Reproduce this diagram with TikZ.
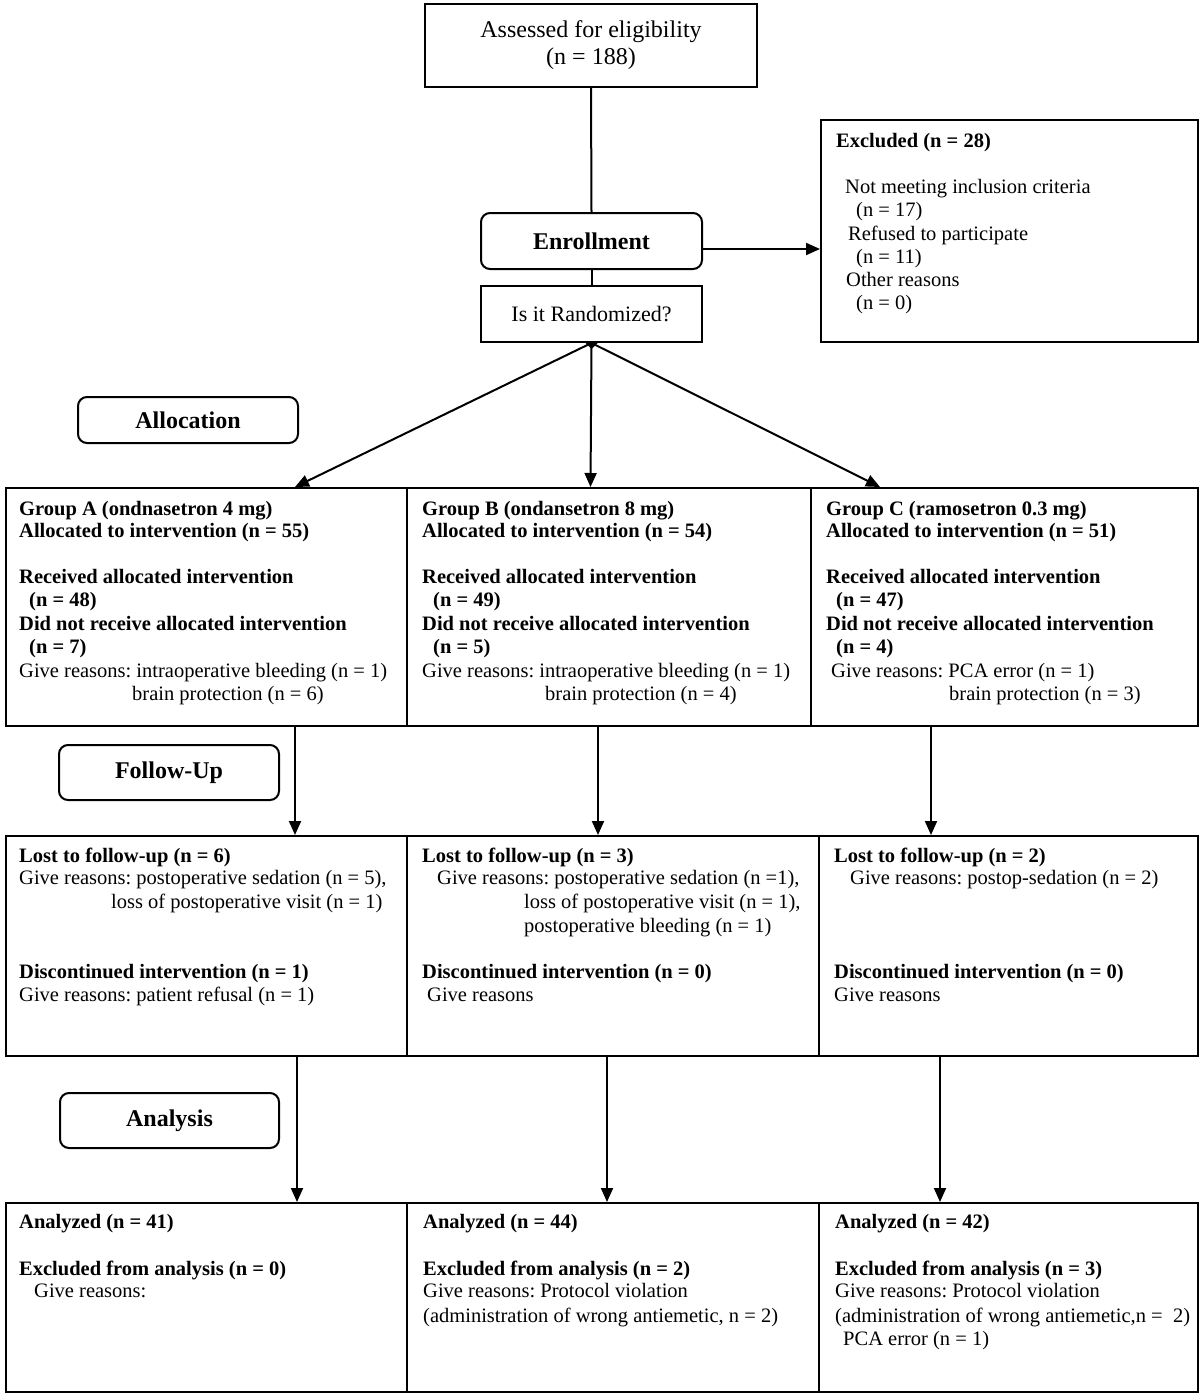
\documentclass[tikz,border=0pt]{standalone}
\usepackage{fontspec}
\setmainfont{Liberation Serif}
\usetikzlibrary{arrows.meta}
\frenchspacing
\begin{document}
\begin{tikzpicture}[x=1pt,y=-1pt,
 box/.style={draw, line width=2pt, inner sep=0pt, anchor=north west},
 rbox/.style={box, rounded corners=9pt},
 tl/.style={anchor=west, inner sep=0pt, text height=14pt, text depth=4pt, font=\fontsize{20.5}{23}\selectfont},
 tb/.style={tl, font=\fontsize{20.5}{23}\selectfont\bfseries},
 bigt/.style={font=\fontsize{24}{27}\selectfont, align=center},
 bigb/.style={font=\fontsize{24}{27}\selectfont\bfseries, align=center},
 conn/.style={line width=2pt},
 arr/.style={conn, -{Triangle[length=14pt,width=12pt]}}]
\useasboundingbox (0,0) rectangle (1200,1395);

% ---- top part
\node[box, minimum width=332pt, minimum height=83pt, bigt] (assess) at (424,3) {Assessed for eligibility\\(n = 188)};
\node[rbox, minimum width=221pt, minimum height=56pt, bigb] (enroll) at (480,212) {Enrollment};
\node[box, minimum width=221pt, minimum height=56pt, font=\fontsize{22}{26}\selectfont] (rand) at (480,285) {Is it Randomized?};
\node[box, minimum width=377pt, minimum height=222pt] (excl) at (820,119) {};
\node[rbox, minimum width=220pt, minimum height=46pt, bigb] (alloc) at (77,396) {Allocation};
\node[rbox, minimum width=220pt, minimum height=55pt, bigb] (follow) at (58,744) {Follow-Up};
\node[rbox, minimum width=219pt, minimum height=55pt, bigb] (analysis) at (59,1092) {Analysis};

\node[tb] (e1) at (836,142) {Excluded (n = 28)};
\node[tl] (e2) at (845,188) {Not meeting inclusion criteria};
\node[tl] (e3) at (856,211) {(n = 17)};
\node[tl] (e4) at (848,235) {Refused to participate};
\node[tl] (e5) at (856,258) {(n = 11)};
\node[tl] (e6) at (846,281) {Other reasons};
\node[tl] (e7) at (856,304) {(n = 0)};

% ---- row 1
\node[box, minimum width=401pt, minimum height=238pt] (ga) at (5,487) {};
\node[box, minimum width=404pt, minimum height=238pt] (gb) at (406,487) {};
\node[box, minimum width=387pt, minimum height=238pt] (gc) at (810,487) {};

\node[tb] (a1) at (19,510) {Group A (ondnasetron 4 mg)};
\node[tb] (a2) at (19,532) {Allocated to intervention (n = 55)};
\node[tb] (a3) at (19,578) {Received allocated intervention};
\node[tb] (a4) at (29,601) {(n = 48)};
\node[tb] (a5) at (19,625) {Did not receive allocated intervention};
\node[tb] (a6) at (29,648) {(n = 7)};
\node[tl] (a7) at (19,672) {Give reasons: intraoperative bleeding (n = 1)};
\node[tl] (a8) at (132,695) {brain protection (n = 6)};

\node[tb] (b1) at (422,510) {Group B (ondansetron 8 mg)};
\node[tb] (b2) at (422,532) {Allocated to intervention (n = 54)};
\node[tb] (b3) at (422,578) {Received allocated intervention};
\node[tb] (b4) at (433,601) {(n = 49)};
\node[tb] (b5) at (422,625) {Did not receive allocated intervention};
\node[tb] (b6) at (433,648) {(n = 5)};
\node[tl] (b7) at (422,672) {Give reasons: intraoperative bleeding (n = 1)};
\node[tl] (b8) at (545,695) {brain protection (n = 4)};

\node[tb] (c1) at (826,510) {Group C (ramosetron 0.3 mg)};
\node[tb] (c2) at (826,532) {Allocated to intervention (n = 51)};
\node[tb] (c3) at (826,578) {Received allocated intervention};
\node[tb] (c4) at (836,601) {(n = 47)};
\node[tb] (c5) at (826,625) {Did not receive allocated intervention};
\node[tb] (c6) at (836,648) {(n = 4)};
\node[tl] (c7) at (831,672) {Give reasons: PCA error (n = 1)};
\node[tl] (c8) at (949,695) {brain protection (n = 3)};

% ---- row 2
\node[box, minimum width=401pt, minimum height=220pt] (fa) at (5,835) {};
\node[box, minimum width=412pt, minimum height=220pt] (fb) at (406,835) {};
\node[box, minimum width=379pt, minimum height=220pt] (fc) at (818,835) {};

\node[tb] (fa1) at (19,857) {Lost to follow-up (n = 6)};
\node[tl] (fa2) at (19,879) {Give reasons: postoperative sedation (n = 5),};
\node[tl] (fa3) at (111,903) {loss of postoperative visit (n = 1)};
\node[tb] (fa4) at (19,973) {Discontinued intervention (n = 1)};
\node[tl] (fa5) at (19,996) {Give reasons: patient refusal (n = 1)};

\node[tb] (fb1) at (422,857) {Lost to follow-up (n = 3)};
\node[tl] (fb2) at (437,879) {Give reasons: postoperative sedation (n =1),};
\node[tl] (fb3) at (524,903) {loss of postoperative visit (n = 1),};
\node[tl] (fb4) at (524,927) {postoperative bleeding (n = 1)};
\node[tb] (fb5) at (422,973) {Discontinued intervention (n = 0)};
\node[tl] (fb6) at (427,996) {Give reasons};

\node[tb] (fc1) at (834,857) {Lost to follow-up (n = 2)};
\node[tl] (fc2) at (850,879) {Give reasons: postop-sedation (n = 2)};
\node[tb] (fc3) at (834,973) {Discontinued intervention (n = 0)};
\node[tl] (fc4) at (834,996) {Give reasons};

% ---- row 3
\node[box, minimum width=401pt, minimum height=189pt] (na) at (5,1202) {};
\node[box, minimum width=412pt, minimum height=189pt] (nb) at (406,1202) {};
\node[box, minimum width=379pt, minimum height=189pt] (nc) at (818,1202) {};

\node[tb] (na1) at (19,1223) {Analyzed (n = 41)};
\node[tb] (na2) at (19,1270) {Excluded from analysis (n = 0)};
\node[tl] (na3) at (34,1292) {Give reasons:};

\node[tb] (nb1) at (423,1223) {Analyzed (n = 44)};
\node[tb] (nb2) at (423,1270) {Excluded from analysis (n = 2)};
\node[tl] (nb3) at (423,1292) {Give reasons: Protocol violation};
\node[tl] (nb4) at (423,1317) {(administration of wrong antiemetic, n = 2)};

\node[tb] (nc1) at (835,1223) {Analyzed (n = 42)};
\node[tb] (nc2) at (835,1270) {Excluded from analysis (n = 3)};
\node[tl] (nc3) at (835,1292) {Give reasons: Protocol violation};
\node[tl] (nc4) at (835,1317) {(administration of wrong antiemetic,n = \ 2)};
\node[tl] (nc5) at (843,1340) {PCA error (n = 1)};

% ---- connector coordinates
\coordinate (ga-in) at (295,487);
\coordinate (gb-in) at (590.5,487);
\coordinate (gc-in) at (880,487);
\coordinate (ga-out) at (295,725);
\coordinate (fa-in) at (295,835);
\coordinate (gb-out) at (598,725);
\coordinate (fb-in) at (598,835);
\coordinate (gc-out) at (931,725);
\coordinate (fc-in) at (931,835);
\coordinate (fa-out) at (297,1055);
\coordinate (na-in) at (297,1202);
\coordinate (fb-out) at (607,1055);
\coordinate (nb-in) at (607,1202);
\coordinate (fc-out) at (940,1055);
\coordinate (nc-in) at (940,1202);

% ---- connectors
\draw[conn] (assess.south) -- (enroll.north);
\draw[arr] ([yshift=-8pt]enroll.east) -- ([yshift=-8pt]enroll.east -| excl.west);
\draw[conn] (enroll.south) -- (rand.north);
\draw[arr] (rand.south) -- (ga-in);
\draw[arr] (rand.south) -- (gb-in);
\draw[arr] (rand.south) -- (gc-in);
\fill ([xshift=-6pt]rand.south) -- ([xshift=6pt]rand.south) -- ([yshift=-6pt]rand.south) -- cycle;
\draw[arr] (ga-out) -- (fa-in);
\draw[arr] (gb-out) -- (fb-in);
\draw[arr] (gc-out) -- (fc-in);
\draw[arr] (fa-out) -- (na-in);
\draw[arr] (fb-out) -- (nb-in);
\draw[arr] (fc-out) -- (nc-in);
\end{tikzpicture}
\end{document}
